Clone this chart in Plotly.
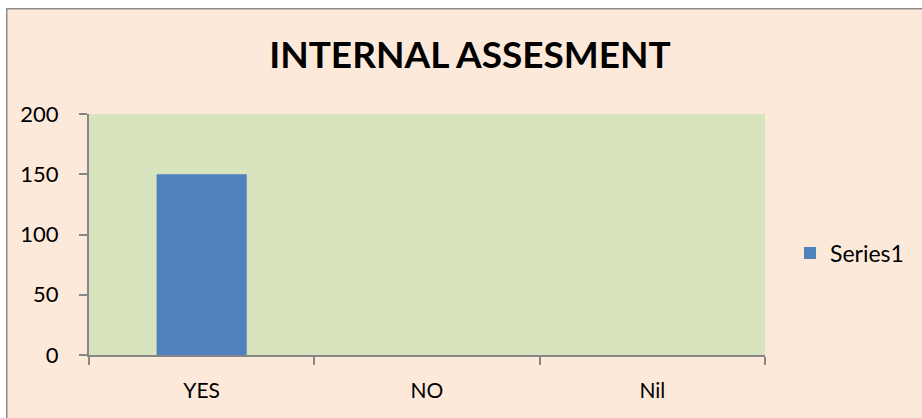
import plotly.graph_objects as go

categories = ["YES", "NO", "Nil"]
values = [150, 0, 0]
series_name = "Series1"
title_text = "INTERNAL ASSESMENT"
y_ticks = [0, 50, 100, 150, 200]

W, H = 922, 418
L, R, T, B = 89, 765, 114, 355
pw, ph = R - L, B - T

def px_x(x):
    return (x - L) / pw

def px_y(y):
    return (B - y) / ph

fig = go.Figure()
fig.add_trace(go.Bar(
    x=categories, y=values, name=series_name,
    marker=dict(color="#4F81BD", line=dict(width=0)),
    width=0.4, showlegend=True,
))

shapes = [
    dict(type="rect", xref="paper", yref="paper", layer="below",
         x0=px_x(6.75), x1=px_x(940), y0=px_y(440), y1=px_y(8.75),
         fillcolor="#FDE9D9", line=dict(color="#8C8C8C", width=1.5)),
    dict(type="rect", xref="paper", yref="paper", layer="below",
         x0=0, x1=1, y0=0, y1=1,
         fillcolor="#D7E4BD", line=dict(width=0)),
]

font_family = "Lato, 'Open Sans', sans-serif"

fig.update_layout(
    width=W, height=H,
    margin=dict(l=L, r=W - R, t=T, b=H - B, pad=0),
    paper_bgcolor="white",
    plot_bgcolor="rgba(0,0,0,0)",
    shapes=shapes,
    font=dict(family=font_family, color="black", size=22),
    title=dict(text="<b>" + title_text + "</b>", xref="container", yref="container",
               x=470 / W, xanchor="center", y=1 - 55 / H, yanchor="middle",
               font=dict(size=37, family=font_family, color="black")),
    showlegend=True,
    legend=dict(x=px_x(790), y=px_y(253), xanchor="left", yanchor="middle",
                bgcolor="rgba(0,0,0,0)", font=dict(size=23, family=font_family, color="black")),
    bargap=0.6,
)

fig.update_xaxes(
    type="category", tickson="boundaries", ticks="outside", ticklen=8, tickwidth=1.5,
    tickcolor="#868686", showline=True, linecolor="#868686", linewidth=2,
    showgrid=False, zeroline=False, ticklabelstandoff=16,
    tickfont=dict(size=21, family=font_family, color="black"),
)
fig.update_yaxes(
    range=[0, 200], tickvals=y_ticks, ticks="outside", ticklen=8, tickwidth=1.5,
    tickcolor="#868686", showline=True, linecolor="#868686", linewidth=2,
    showgrid=False, zeroline=False, ticklabelstandoff=16,
    tickfont=dict(size=22, family=font_family, color="black"),
)

fig.write_html("out.html",
               config={"displayModeBar": False},
               post_script="document.body.style.margin='0';document.body.style.overflow='hidden';")
